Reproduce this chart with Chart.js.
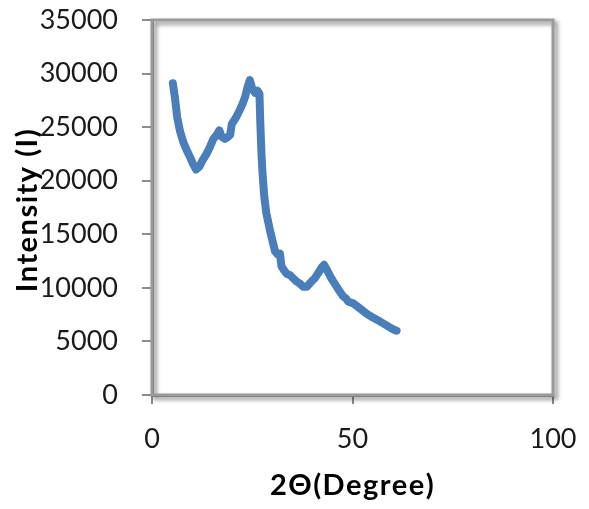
<!DOCTYPE html>
<html>
<head>
<meta charset="utf-8">
<script src="https://cdn.jsdelivr.net/npm/chart.js@4/dist/chart.umd.min.js"></script>
<style>
    html, body { margin: 0; padding: 0; background: #ffffff; }
    #wrap { width: 589px; height: 509px; position: relative; }
</style>
</head>
<body>
<div id="wrap"><canvas id="chart-xrd"></canvas></div>
<script>
const twoTheta = [
    5.2, 5.7, 6.3, 7.0, 7.8, 8.6, 9.5, 10.2, 11.0, 11.8,
    12.6, 13.6, 14.5, 15.3, 16.0, 16.8, 17.4, 18.2, 19.0, 19.5,
    19.9, 20.8, 21.9, 22.6, 23.2, 23.8, 24.4, 25.0, 25.7, 26.3,
    26.8, 27.0, 27.3, 27.6, 28.0, 28.5, 29.4, 30.1, 30.7, 31.4,
    31.9, 32.3, 33.0, 33.6, 34.4, 35.2, 36.0, 36.9, 37.7, 38.6,
    39.8, 40.6, 41.5, 42.3, 42.9, 43.6, 44.4, 45.2, 46.4, 47.7,
    48.4, 49.0, 50.2, 51.8, 53.5, 55.2, 56.9, 58.5, 59.8, 60.6, 61.0,
];
const intensity = [
    29100, 27800, 25900, 24600, 23600, 22900, 22200, 21600, 21050, 21300,
    21900, 22500, 23200, 23900, 24200, 24700, 24100, 23900, 24100, 24300,
    25300, 25800, 26600, 27200, 27800, 28700, 29400, 28600, 28200, 28400,
    28100, 25500, 22500, 20500, 18500, 17000, 15400, 14300, 13400, 13100,
    13200, 12000, 11600, 11300, 11200, 10900, 10600, 10400, 10100, 10100,
    10600, 10900, 11400, 11900, 12150, 11700, 11100, 10600, 9900, 9200,
    9000, 8700, 8550, 8100, 7600, 7200, 6850, 6500, 6200, 6050, 6000,
];
const xTicks = [0, 50, 100];
const yTicks = [0, 5000, 10000, 15000, 20000, 25000, 30000, 35000];

const xTitle = '2\u0398(Degree)';
const yTitle = 'Intensity (I)';

const lineColor = '#4a7ebb';
const axisColor = '#8c8c8c';
const textColor = '#1a1a1a';
const fontFamily = 'Lato, "Open Sans", sans-serif';
const tickFont = { family: fontFamily, size: 27 };
const titleSize = 29;

// plot box with the soft drop shadow
const plotFrame = {
    id: 'plotFrame',
    beforeDatasetsDraw(chart) {
        const { ctx, chartArea: a } = chart;
        ctx.save();
        ctx.shadowColor = 'rgba(0, 0, 0, 0.5)';
        ctx.shadowBlur = 4;
        ctx.shadowOffsetX = 3;
        ctx.shadowOffsetY = 3;
        ctx.strokeStyle = '#9a9a9a';
        ctx.lineWidth = 3;
        ctx.strokeRect(a.left, a.top, a.right - a.left, a.bottom - a.top);
        ctx.restore();
    },
};

// axis titles; the y one sits over the tick labels, as in the original
const axisTitles = {
    id: 'axisTitles',
    afterDraw(chart) {
        const { ctx, chartArea: a } = chart;
        ctx.save();
        ctx.font = `bold ${titleSize}px ${fontFamily}`;
        ctx.fillStyle = '#000000';
        ctx.letterSpacing = '1.5px';
        ctx.textAlign = 'center';
        ctx.textBaseline = 'alphabetic';
        ctx.fillText(xTitle, (a.left + a.right) / 2, 495);
        ctx.translate(37, 210);
        ctx.rotate(-Math.PI / 2);
        ctx.fillText(yTitle, 0, 0);
        ctx.restore();
    },
};

const points = twoTheta.map((x, i) => ({ x, y: intensity[i] }));

new Chart(document.getElementById('chart-xrd'), {
    type: 'line',
    data: {
        datasets: [{
            label: 'XRD',
            data: points,
            borderColor: lineColor,
            borderWidth: 8,
            borderJoinStyle: 'round',
            borderCapStyle: 'round',
            pointRadius: 0,
            tension: 0,
            fill: false,
        }],
    },
    options: {
        responsive: true,
        maintainAspectRatio: false,
        animation: false,
        layout: { padding: { top: 20, right: 36, bottom: 0, left: 0 } },
        plugins: {
            legend: { display: false },
            tooltip: { enabled: false },
        },
        scales: {
            x: {
                type: 'linear',
                min: 0,
                max: 100,
                afterBuildTicks: (scale) => { scale.ticks = xTicks.map((v) => ({ value: v })); },
                afterFit: (scale) => {
                    scale.height = 114;
                    scale.paddingLeft = 0;
                    scale.paddingRight = 0;
                },
                border: { display: true, color: axisColor, width: 3 },
                grid: { drawOnChartArea: false, drawTicks: true, tickLength: 9, color: axisColor, lineWidth: 2 },
                ticks: { color: textColor, font: tickFont, padding: 19, maxRotation: 0, callback: (v) => String(v) },
            },
            y: {
                type: 'linear',
                min: 0,
                max: 35000,
                afterBuildTicks: (scale) => { scale.ticks = yTicks.map((v) => ({ value: v })); },
                afterFit: (scale) => {
                    scale.width = 152;
                    scale.paddingTop = 0;
                    scale.paddingBottom = 0;
                },
                border: { display: true, color: axisColor, width: 3 },
                grid: { drawOnChartArea: false, drawTicks: true, tickLength: 10, color: axisColor, lineWidth: 2 },
                ticks: { color: textColor, font: tickFont, padding: 24, callback: (v) => String(v) },
            },
        },
    },
    plugins: [plotFrame, axisTitles],
});
</script>
</body>
</html>
